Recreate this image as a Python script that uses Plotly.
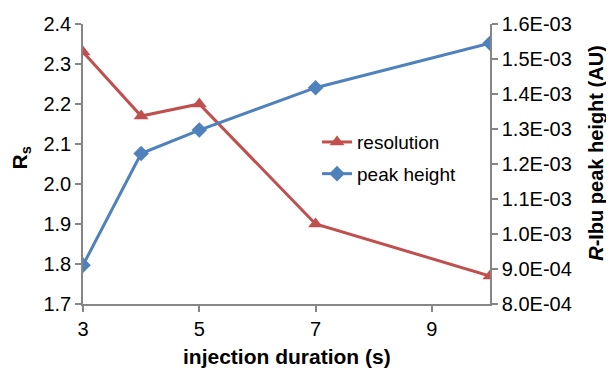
import plotly.graph_objects as go

duration = [3, 4, 5, 7, 10]
resolution = [2.33, 2.17, 2.20, 1.90, 1.77]
peak_height = [9.11e-4, 1.23e-3, 1.297e-3, 1.418e-3, 1.545e-3]

x_ticks = [3, 5, 7, 9]
left_ticks = [1.7, 1.8, 1.9, 2.0, 2.1, 2.2, 2.3, 2.4]
left_labels = ["1.7", "1.8", "1.9", "2.0", "2.1", "2.2", "2.3", "2.4"]
right_ticks = [8.0e-4, 9.0e-4, 1.0e-3, 1.1e-3, 1.2e-3, 1.3e-3, 1.4e-3, 1.5e-3, 1.6e-3]
right_labels = ["8.0E-04", "9.0E-04", "1.0E-03", "1.1E-03", "1.2E-03",
                "1.3E-03", "1.4E-03", "1.5E-03", "1.6E-03"]

RED = "#C0504D"
BLUE = "#4F81BD"
AXIS = "#868686"
FONT = "Liberation Sans, Arial, sans-serif"

fig = go.Figure()
fig.add_trace(go.Scatter(
    x=duration, y=resolution, name="resolution", mode="lines+markers",
    legendgroup="a",
    line=dict(color=RED, width=3),
    marker=dict(symbol="triangle-up", size=13, color=RED),
    yaxis="y",
))
fig.add_trace(go.Scatter(
    x=duration, y=peak_height, name="peak height", mode="lines+markers",
    legendgroup="b",
    line=dict(color=BLUE, width=3),
    marker=dict(symbol="diamond", size=12, color=BLUE),
    yaxis="y2",
))

axis_common = dict(
    automargin=False,
    showgrid=False, zeroline=False, showline=True, linecolor=AXIS, linewidth=1.5,
    ticks="outside", tickcolor=AXIS, ticklen=6, tickwidth=1.5,
    tickfont=dict(family=FONT, size=20, color="black"),
)

fig.update_layout(
    template="none",
    width=606, height=363,
    margin=dict(l=75, r=124, t=16, b=67, autoexpand=False),
    paper_bgcolor="white", plot_bgcolor="white",
    font=dict(family=FONT, size=20, color="black"),
    showlegend=True,
    legend=dict(x=0.575, y=0.646, xanchor="left", yanchor="top",
                bgcolor="rgba(0,0,0,0)", font=dict(family=FONT, size=19),
                tracegroupgap=4, itemwidth=30),
    xaxis=dict(range=[3, 10], tickvals=x_ticks, **axis_common),
    yaxis=dict(range=[1.7, 2.4], tickvals=left_ticks, ticktext=left_labels,
               **axis_common),
    yaxis2=dict(range=[8.0e-4, 1.6e-3], tickvals=right_ticks, ticktext=right_labels,
                overlaying="y", side="right", anchor="x", **axis_common),
    annotations=[
        dict(text="<b>injection duration (s)</b>", xref="paper", yref="paper",
             x=0.5, y=0, xanchor="center", yanchor="middle", yshift=-52,
             showarrow=False, font=dict(family=FONT, size=21)),
        dict(text="<b>R<sub>s</sub></b>", xref="paper", yref="paper",
             x=0, y=0.52, xanchor="center", yanchor="middle", xshift=-62,
             textangle=-90, showarrow=False, font=dict(family=FONT, size=21)),
        dict(text="<b><i>R</i>-Ibu peak height (AU)</b>", xref="paper", yref="paper",
             x=1, y=0.54, xanchor="center", yanchor="middle", xshift=106,
             textangle=-90, showarrow=False, font=dict(family=FONT, size=20)),
    ],
)

fig.write_html("out.html")
